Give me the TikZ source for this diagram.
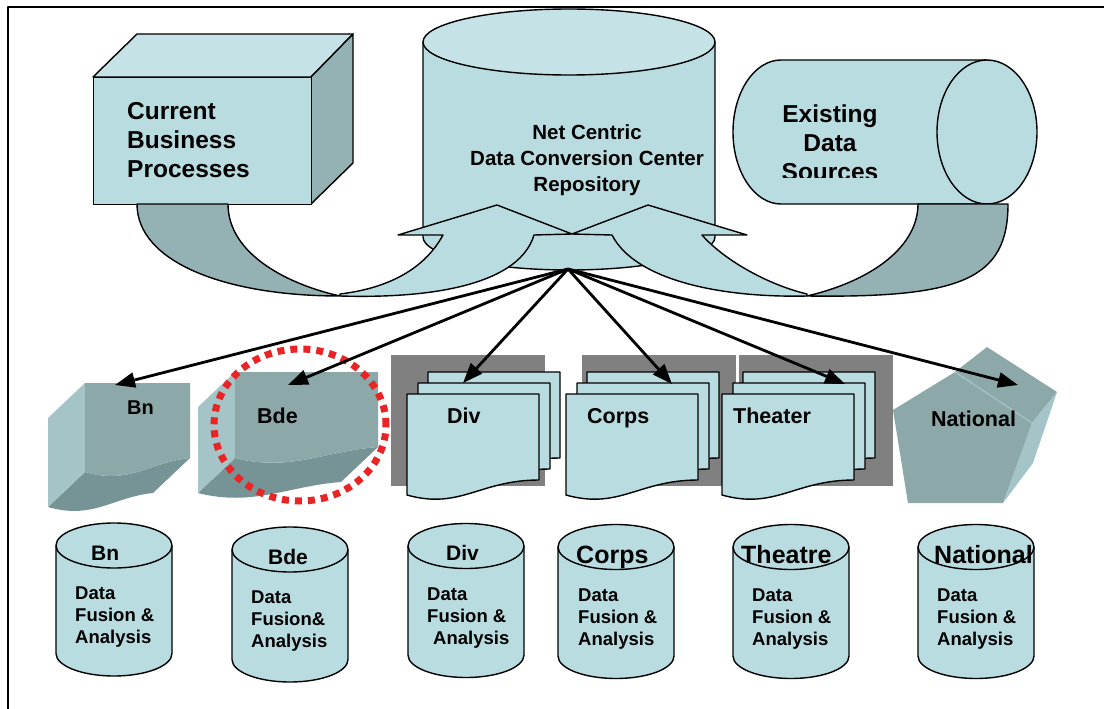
\documentclass[tikz,border=0pt]{standalone}
\usepackage{fontspec}
\setmainfont{Liberation Sans}
\usepackage{tikz}
\usetikzlibrary{arrows.meta,positioning,calc}
\definecolor{paleteal}{RGB}{184,220,224}
\definecolor{liteteal}{RGB}{197,226,230}
\definecolor{duskteal}{RGB}{148,177,180}
\definecolor{slateteal}{RGB}{140,168,169}
\definecolor{bevelteal}{RGB}{164,196,199}
\definecolor{shadeteal}{RGB}{118,148,150}
\definecolor{sheetgray}{RGB}{128,128,128}
\definecolor{ringred}{RGB}{234,36,36}

\begin{document}
\begin{tikzpicture}[x=1pt, y=-1pt, line join=round,
  >={Triangle[length=20pt,width=15pt]},
  edge/.style={draw=black, line width=1.4pt},
  ray/.style={->, line width=2.8pt},
  headtxt/.style={font=\bfseries\fontsize{24.5}{29}\selectfont, inner sep=0pt, align=left, anchor=base west},
  hubtxt/.style={font=\bfseries\fontsize{20.5}{26}\selectfont, inner sep=0pt, align=center, anchor=base},
  tiertxt/.style={font=\bfseries\fontsize{21.5}{26}\selectfont, inner sep=0pt, anchor=base west},
  cyltxt/.style={font=\bfseries\fontsize{18.5}{22}\selectfont, inner sep=0pt, align=left, anchor=base west}]
\useasboundingbox (0,0) rectangle (1104,709);
\draw[line width=2pt] (8,709) -- (8,7) -- (1104,7);

% repository drum
\fill[paleteal] (423,42) -- (423,237) arc[start angle=180, end angle=360, x radius=146pt, y radius=33pt] -- (715,42) -- cycle;
\draw[edge] (423,42) -- (423,237) arc[start angle=180, end angle=360, x radius=146pt, y radius=33pt] -- (715,42);
\draw[edge, fill=liteteal] (569,42) ellipse [x radius=146pt, y radius=33pt];
\node[hubtxt] (repo) at (587,191) {Net Centric\\Data Conversion Center\\Repository};

% business process box
\draw[edge, fill=liteteal] (93,77) -- (137,34) -- (353,34) -- (311,77) -- cycle;
\draw[edge, fill=duskteal] (311,77) -- (353,34) -- (353,163) -- (311,204) -- cycle;
\node[edge, fill=paleteal, minimum width=218pt, minimum height=127pt, anchor=north west] (proc) at (93,77) {};
\node[headtxt] (proctxt) at (127,177) {Current\\Business\\Processes};

% existing sources drum
\fill[paleteal] (987,60) -- (781,60) arc[start angle=90, end angle=270, x radius=48pt, y radius=72pt] -- (987,204) -- cycle;
\draw[edge] (987,60) -- (781,60) arc[start angle=90, end angle=270, x radius=48pt, y radius=72pt] -- (987,204);
\draw[edge, fill=paleteal] (987,132) ellipse [x radius=50pt, y radius=72pt];
\begin{scope}
  \clip (740,80) rectangle (940,177);
  \node[headtxt, align=center, anchor=base] (srctxt) at (830,180) {Existing\\Data\\Sources};
\end{scope}

% left ribbon arrow
\draw[edge, fill=duskteal] (137,204) .. controls (137,262) and (225,296) .. (340,296)
  .. controls (290,285) and (228,255) .. (228,204) -- cycle;
\draw[edge, fill=paleteal] (340,296) .. controls (440,299) and (520,282) .. (534,235)
  -- (572,234) -- (497,205) -- (398,235) -- (443,235)
  .. controls (425,268) and (390,288) .. (340,294) -- cycle;

% right ribbon arrow
\draw[edge, fill=duskteal] (1008,204) .. controls (1008,280) and (960,298) .. (807,296)
  .. controls (875,280) and (918,245) .. (918,204) -- cycle;
\draw[edge, fill=paleteal] (807,294) .. controls (765,284) and (722,258) .. (702,235)
  -- (747,235) -- (648,205) -- (572,234) -- (612,235)
  .. controls (635,280) and (720,298) .. (807,296) -- cycle;

% Bn and Bde wave blocks
\fill[shadeteal] (85,472) .. controls (130,485) and (150,462) .. (190,458) -- (153,493)
  .. controls (113,497) and (93,520) .. (48,507) -- cycle;
\fill[bevelteal] (48,418) -- (85,383) -- (85,472) -- (48,507) -- cycle;
\fill[slateteal] (85,383) -- (190,383) -- (190,458) .. controls (150,462) and (130,485) .. (85,472) -- cycle;
\node[tiertxt, font=\bfseries\fontsize{20}{24}\selectfont] (bn) at (127,414) {Bn};

\fill[shadeteal] (235,458) .. controls (290,472) and (325,451) .. (378,447) -- (341,482)
  .. controls (288,486) and (253,507) .. (198,493) -- cycle;
\fill[bevelteal] (198,407) -- (235,372) -- (235,458) -- (198,493) -- cycle;
\fill[slateteal] (235,372) -- (378,372) -- (378,447) .. controls (325,451) and (290,472) .. (235,458) -- cycle;
\node[tiertxt] (bde) at (257,423) {Bde};

% stacked document tiers
\foreach \gx/\dx/\lx/\name/\txt in {391/407/447/div/Div, 582/566/587/corps/Corps, 739/722/733/theater/Theater}{
  \fill[sheetgray] (\gx,355) rectangle (\gx+154,486);
  \foreach \ox/\oy in {21/372, 11/383, 0/394}
    \draw[edge, fill=paleteal] (\dx+\ox,\oy) -- (\dx+\ox+132,\oy) -- (\dx+\ox+132,\oy+86)
      .. controls (\dx+\ox+73,\oy+86) and (\dx+\ox+53,\oy+116) .. (\dx+\ox,\oy+101) -- cycle;
  \node[tiertxt] (\name) at (\lx,423) {\txt};
}

% national pentagon
\fill[slateteal] (955,372) -- (987,347) -- (1057,392) -- (1032,423) -- cycle;
\fill[bevelteal] (1032,423) -- (1057,392) -- (1033,463) -- (1003,503) -- cycle;
\fill[slateteal] (955,372) -- (1032,423) -- (1003,503) -- (908,503) -- (893,410) -- cycle;
\draw[bevelteal, line width=1.2pt] (955,372) -- (1032,423);
\node[tiertxt] (natl) at (931,426) {National};

% highlight ring
\draw[ringred, line width=7pt, dash pattern=on 7pt off 6pt] (300,425) ellipse [x radius=86pt, y radius=76pt];

% distribution arrows
\coordinate (hub) at (568,269);
\coordinate (bn-in) at (115,385);
\coordinate (bde-in) at (288,385);
\coordinate (div-in) at (463,383);
\coordinate (corps-in) at (672,384);
\coordinate (theater-in) at (845,384);
\coordinate (natl-in) at (1018,385);
\foreach \tip in {bn-in, bde-in, div-in, corps-in, theater-in, natl-in}
  \draw[ray] (hub) -- (\tip);

% fusion drums
\foreach \cx/\cy/\cb/\name/\title/\tx/\ty/\tf/\bx/\body in {
    114/545.5/653.5/bn/Bn/91/560/21/75/Data\\Fusion \&\\Analysis,
    290/549.5/659.5/bde/Bde/268/564/21/251/Data\\Fusion\&\\Analysis,
    466/546/655/div/Div/446/560/21/427/Data\\Fusion \&\\\hspace{6pt}Analysis,
    616/547/656/corps/Corps/576/563/25/578/Data\\Fusion \&\\Analysis,
    791/547/656/theatre/Theatre/741/563/25/752/Data\\Fusion \&\\Analysis,
    976/547/656/natl/National/934/563/25/937/Data\\Fusion \&\\Analysis}{
  \fill[paleteal] (\cx-58,\cy) -- (\cx-58,\cb) arc[start angle=180, end angle=360, x radius=58pt, y radius=22.5pt] -- (\cx+58,\cy) -- cycle;
  \draw[edge] (\cx-58,\cy) -- (\cx-58,\cb) arc[start angle=180, end angle=360, x radius=58pt, y radius=22.5pt] -- (\cx+58,\cy);
  \draw[edge, fill=paleteal] (\cx,\cy) ellipse [x radius=58pt, y radius=22.5pt];
  \begin{scope}
    \clip (\cx-58,500) rectangle (\cx+56,600);
    \node[tiertxt, font=\bfseries\fontsize{\tf}{\tf}\selectfont] (\name-db) at (\tx,\ty) {\title};
  \end{scope}
  \node[cyltxt] (\name-fuse) at (\bx,\cy+98) {\body};
}
\end{tikzpicture}
\end{document}
